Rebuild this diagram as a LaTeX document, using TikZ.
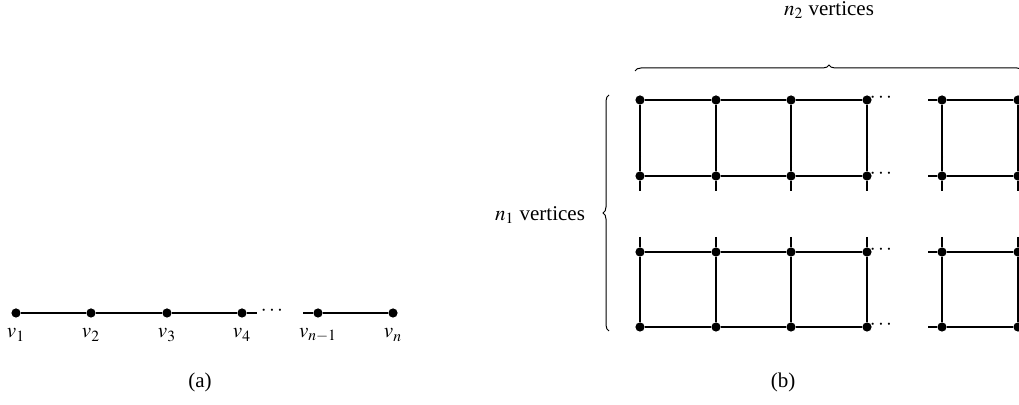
\documentclass[tikz,border=0pt]{standalone}
\usepackage{mathptmx}
\usepackage{fontspec}
\setmainfont{Liberation Serif}
\usetikzlibrary{decorations.pathreplacing}
\begin{document}
\begin{tikzpicture}[x=0.5pt,y=-0.5pt,
  every node/.style={font=\fontsize{10.5}{12.6}\selectfont},
  vtx/.style={circle,fill,inner sep=0pt,minimum size=4.6pt},
  edge/.style={line width=0.7pt},
  tiny/.style={circle,fill,inner sep=0pt,minimum size=1pt},
  brc/.style={decorate,decoration={brace,amplitude=3pt},line width=0.5pt}]
\useasboundingbox (0,0) rectangle (1019,405);
% ---------- (a) path ----------
\foreach \x [count=\i] in {16,91,167,242,318,393}
  \node[vtx] (a\i) at (\x,313) {};
\node (la1) at (16,335) {$v_1$};
\node (la2) at (91,335) {$v_2$};
\node (la3) at (167,335) {$v_3$};
\node (la4) at (242,335) {$v_4$};
\node (la5) at (318,335) {$v_{n-1}$};
\node (la6) at (393,335) {$v_n$};
\coordinate (a4e) at (257,313);
\coordinate (a5s) at (303,313);
\node (adots) at (272,311) {$\cdots$};
\draw[edge] (a1)--(a2)--(a3)--(a4)--(a4e);
\draw[edge] (a5s)--(a5)--(a6);
\node (capa) at (200,382) {(a)};
% ---------- (b) grid ----------
\foreach \x [count=\i] in {640,716,791,867,942,1018}
  \foreach \y [count=\j] in {100,176,252,327}
    \node[vtx] (b\j\i) at (\x,\y) {};
\foreach \y [count=\j] in {100,176,252,327} {
  \coordinate (s\j) at (928,\y);
  \node (d\j) at (881,\y-2) {$\cdots$};
  \draw[edge] (b\j1)--(b\j2)--(b\j3)--(b\j4);
  \draw[edge] (s\j)--(b\j5)--(b\j6);
}
\foreach \x [count=\i] in {640,716,791,867,942,1018} {
  \coordinate (t\i) at (\x,191);
  \coordinate (u\i) at (\x,237);
  \draw[edge] (b1\i)--(b2\i)--(t\i);
  \draw[edge] (u\i)--(b3\i)--(b4\i);
  \node[tiny] (p\i) at (\x,157) {};
  \node[tiny] (q\i) at (\x,168) {};
}
% braces
\coordinate (bt1) at (635,71);
\coordinate (bt2) at (1023,71);
\draw[brc] (bt1) -- (bt2);
\node (n2) at (829,10) {$n_2$ vertices};
\coordinate (bl1) at (609,331);
\coordinate (bl2) at (609,95);
\draw[brc] (bl1) -- (bl2);
\node[anchor=east] (n1) at (592,215) {$n_1$ vertices};
\node (capb) at (783,382) {(b)};
\end{tikzpicture}
\end{document}
